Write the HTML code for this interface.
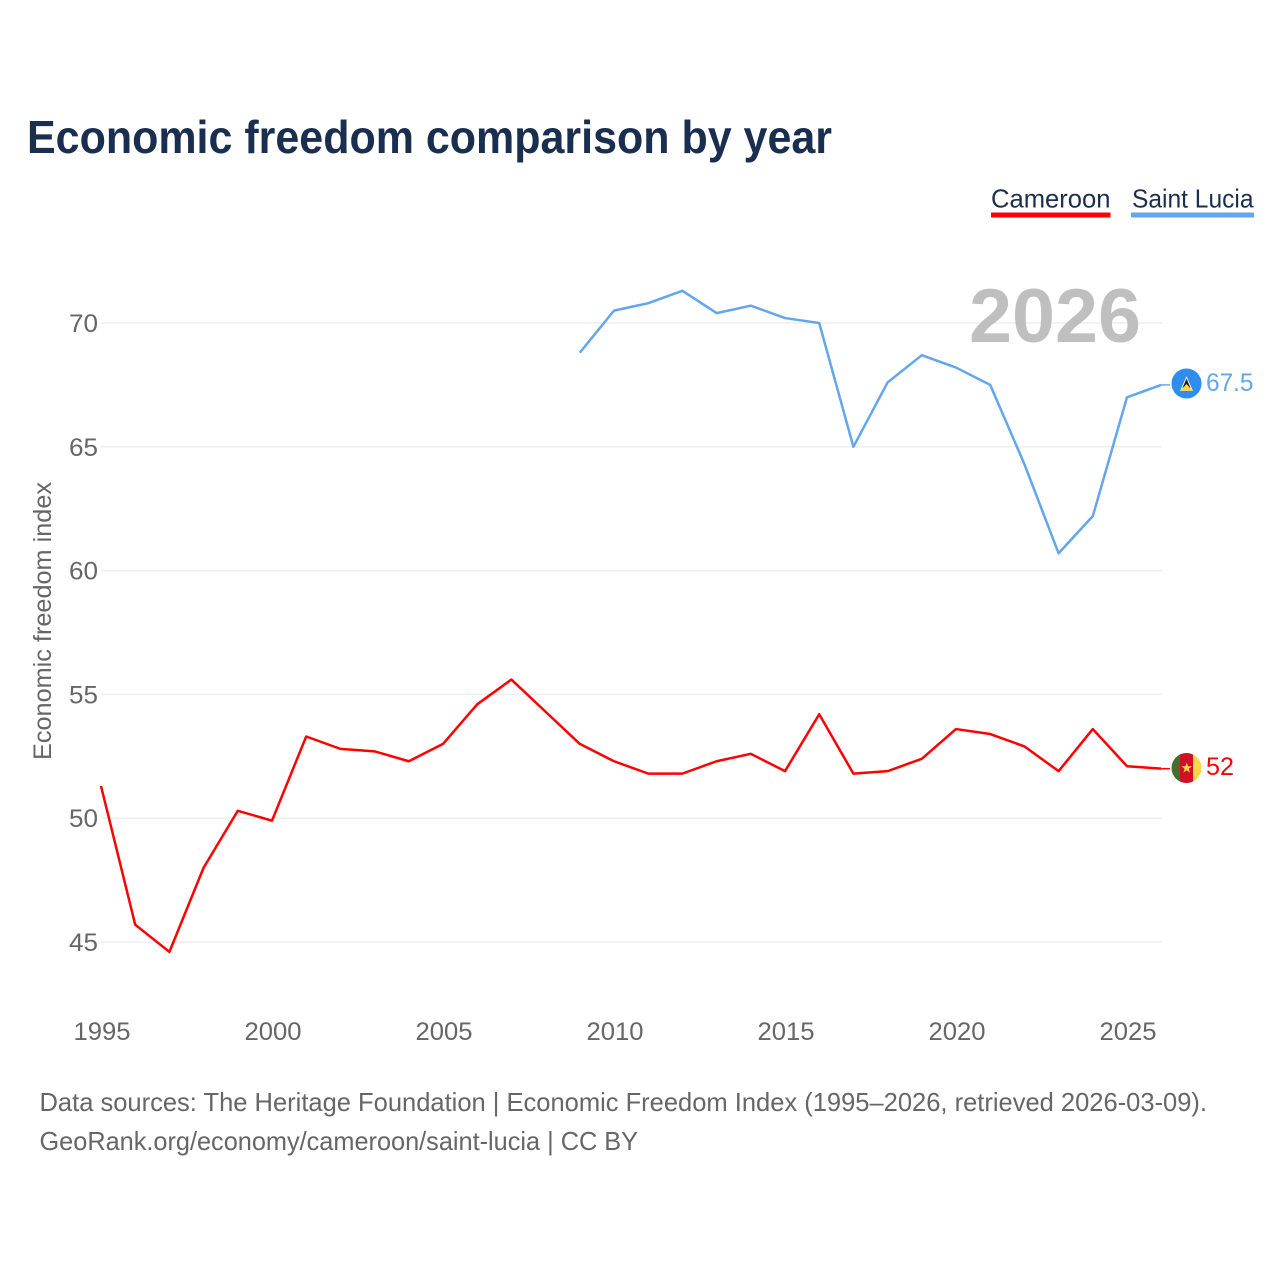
<!DOCTYPE html>
<html lang="en">
<head>
<meta charset="utf-8">
<title>Economic freedom comparison by year</title>
<style>
html,body{margin:0;padding:0;background:#fff;width:1280px;height:1280px;overflow:hidden}
svg{display:block}
text{font-family:"Liberation Sans",sans-serif}
</style>
</head>
<body>
<svg id="chart" xmlns="http://www.w3.org/2000/svg" width="1280" height="1280" viewBox="0 0 1280 1280">
  <rect x="0" y="0" width="1280" height="1280" fill="#fff"/>
  <text x="27" y="153" font-size="46" font-weight="700" fill="#1a2f4f" textLength="805" lengthAdjust="spacingAndGlyphs">Economic freedom comparison by year</text>

  <g>
    <g>
      <text x="991" y="207.5" font-size="26" fill="#1a2f4f" textLength="119.5" lengthAdjust="spacingAndGlyphs">Cameroon</text>
      <rect x="991" y="212.5" width="119.5" height="5" fill="#ff0000"/>
    </g>
    <g>
      <text x="1132" y="207.5" font-size="26" fill="#1a2f4f" textLength="121.5" lengthAdjust="spacingAndGlyphs">Saint Lucia</text>
      <rect x="1131" y="212.5" width="123" height="5" fill="#63a6ec"/>
    </g>
  </g>

  <g id="grid"></g>
  <text x="969" y="342" font-size="76" font-weight="700" fill="#bfbfbf" textLength="172" lengthAdjust="spacingAndGlyphs">2026</text>
  <g id="yticks"></g>
  <g id="xticks"></g>
  <text transform="translate(51,760) rotate(-90)" font-size="25" fill="#666" textLength="278" lengthAdjust="spacingAndGlyphs">Economic freedom index</text>

  <g id="series"></g>

  <g>
    <circle cx="1186.5" cy="383.5" r="15" fill="#2f8df0"/>
    <polygon points="1186.5,376 1193,391 1180,391" fill="#f4f4f4"/>
    <polygon points="1186.5,378.5 1190.5,388 1182.5,388" fill="#222"/>
    <polygon points="1186.5,384 1193,391 1180,391" fill="#fcd34d"/>
  </g>
  <text x="1206" y="391" font-size="25" fill="#63a6ec" textLength="47.5" lengthAdjust="spacingAndGlyphs">67.5</text>

  <g>
    <clipPath id="cm-clip"><circle cx="1186.5" cy="768" r="15"/></clipPath>
    <g clip-path="url(#cm-clip)">
      <rect x="1171" y="752" width="10" height="32" fill="#4a6b2c"/>
      <rect x="1180" y="752" width="13" height="32" fill="#ce1126"/>
      <rect x="1193" y="752" width="10" height="32" fill="#fcd34d"/>
    </g>
    <polygon points="1186.7,762.5 1188,766.3 1192,766.3 1188.8,768.8 1190,772.6 1186.7,770.3 1183.4,772.6 1184.6,768.8 1181.4,766.3 1185.4,766.3" fill="#fcd34d"/>
  </g>
  <text x="1206" y="775" font-size="25" fill="#ff0000" textLength="28" lengthAdjust="spacingAndGlyphs">52</text>

  <text x="39.5" y="1111" font-size="26" fill="#666" textLength="1167.5" lengthAdjust="spacingAndGlyphs">Data sources: The Heritage Foundation | Economic Freedom Index (1995–2026, retrieved 2026-03-09).</text>
  <text x="39.5" y="1150" font-size="26" fill="#666" textLength="598.5" lengthAdjust="spacingAndGlyphs">GeoRank.org/economy/cameroon/saint-lucia | CC BY</text>
</svg>
<script>
const yTickValues = [45, 50, 55, 60, 65, 70];
const xTickValues = [1995, 2000, 2005, 2010, 2015, 2020, 2025];
const cameroonYears = [1995,1996,1997,1998,1999,2000,2001,2002,2003,2004,2005,2006,2007,2008,2009,2010,2011,2012,2013,2014,2015,2016,2017,2018,2019,2020,2021,2022,2023,2024,2025,2026];
const cameroonValues = [51.3,45.7,44.6,48.0,50.3,49.9,53.3,52.8,52.7,52.3,53.0,54.6,55.6,54.3,53.0,52.3,51.8,51.8,52.3,52.6,51.9,54.2,51.8,51.9,52.4,53.6,53.4,52.9,51.9,53.6,52.1,52.0];
const saintLuciaYears = [2009,2010,2011,2012,2013,2014,2015,2016,2017,2018,2019,2020,2021,2022,2023,2024,2025,2026];
const saintLuciaValues = [68.8,70.5,70.8,71.3,70.4,70.7,70.2,70.0,65.0,67.6,68.7,68.2,67.5,64.3,60.7,62.2,67.0,67.5];

const SVG_NS = 'http://www.w3.org/2000/svg';
function xScale(year) { return 101 + (year - 1995) * 34.2; }
function yScale(value) { return 323 + (70 - value) * 24.76; }

const grid = document.getElementById('grid');
const yticks = document.getElementById('yticks');
const xticks = document.getElementById('xticks');
const series = document.getElementById('series');

yTickValues.forEach(function (v) {
  const line = document.createElementNS(SVG_NS, 'line');
  
  
  line.setAttribute('x1', 101);
  line.setAttribute('x2', 1162);
  line.setAttribute('y1', yScale(v));
  line.setAttribute('y2', yScale(v));
  line.setAttribute('stroke', '#eeeeee');
  line.setAttribute('stroke-width', '1.5');
  grid.appendChild(line);

  const label = document.createElementNS(SVG_NS, 'text');
  
  
  label.setAttribute('x', 98);
  label.setAttribute('y', yScale(v) + 9);
  label.setAttribute('text-anchor', 'end');
  label.setAttribute('font-size', '25');
  label.setAttribute('fill', '#666');
  label.setAttribute('textLength', '29');
  label.setAttribute('lengthAdjust', 'spacingAndGlyphs');
  label.textContent = v;
  yticks.appendChild(label);
});

xTickValues.forEach(function (y) {
  const label = document.createElementNS(SVG_NS, 'text');
  
  
  label.setAttribute('x', xScale(y) + 1);
  label.setAttribute('y', 1040);
  label.setAttribute('text-anchor', 'middle');
  label.setAttribute('font-size', '25');
  label.setAttribute('fill', '#666');
  label.setAttribute('textLength', '57');
  label.setAttribute('lengthAdjust', 'spacingAndGlyphs');
  label.textContent = y;
  xticks.appendChild(label);
});

function pointsFor(years, values) {
  return years.map(function (yr, i) {
    return xScale(yr).toFixed(2) + ',' + yScale(values[i]).toFixed(2);
  }).join(' ');
}

const cameroonLine = document.createElementNS(SVG_NS, 'polyline');


cameroonLine.setAttribute('points', pointsFor(cameroonYears, cameroonValues));
cameroonLine.setAttribute('fill', 'none');
cameroonLine.setAttribute('stroke', '#ff0000');
cameroonLine.setAttribute('stroke-width', '2.5');
cameroonLine.setAttribute('stroke-linejoin', 'round');
series.appendChild(cameroonLine);

const saintLuciaLine = document.createElementNS(SVG_NS, 'polyline');


saintLuciaLine.setAttribute('points', pointsFor(saintLuciaYears, saintLuciaValues));
saintLuciaLine.setAttribute('fill', 'none');
saintLuciaLine.setAttribute('stroke', '#63a6ec');
saintLuciaLine.setAttribute('stroke-width', '2.5');
saintLuciaLine.setAttribute('stroke-linejoin', 'round');
series.appendChild(saintLuciaLine);

const cameroonConnector = document.createElementNS(SVG_NS, 'line');


cameroonConnector.setAttribute('x1', xScale(2026));
cameroonConnector.setAttribute('x2', 1170);
cameroonConnector.setAttribute('y1', yScale(cameroonValues[cameroonValues.length - 1]));
cameroonConnector.setAttribute('y2', yScale(cameroonValues[cameroonValues.length - 1]));
cameroonConnector.setAttribute('stroke', '#ff0000');
cameroonConnector.setAttribute('stroke-width', '1.5');
series.appendChild(cameroonConnector);

const saintLuciaConnector = document.createElementNS(SVG_NS, 'line');


saintLuciaConnector.setAttribute('x1', xScale(2026));
saintLuciaConnector.setAttribute('x2', 1170);
saintLuciaConnector.setAttribute('y1', yScale(saintLuciaValues[saintLuciaValues.length - 1]));
saintLuciaConnector.setAttribute('y2', yScale(saintLuciaValues[saintLuciaValues.length - 1]));
saintLuciaConnector.setAttribute('stroke', '#63a6ec');
saintLuciaConnector.setAttribute('stroke-width', '1.5');
series.appendChild(saintLuciaConnector);
</script>
</body>
</html>
